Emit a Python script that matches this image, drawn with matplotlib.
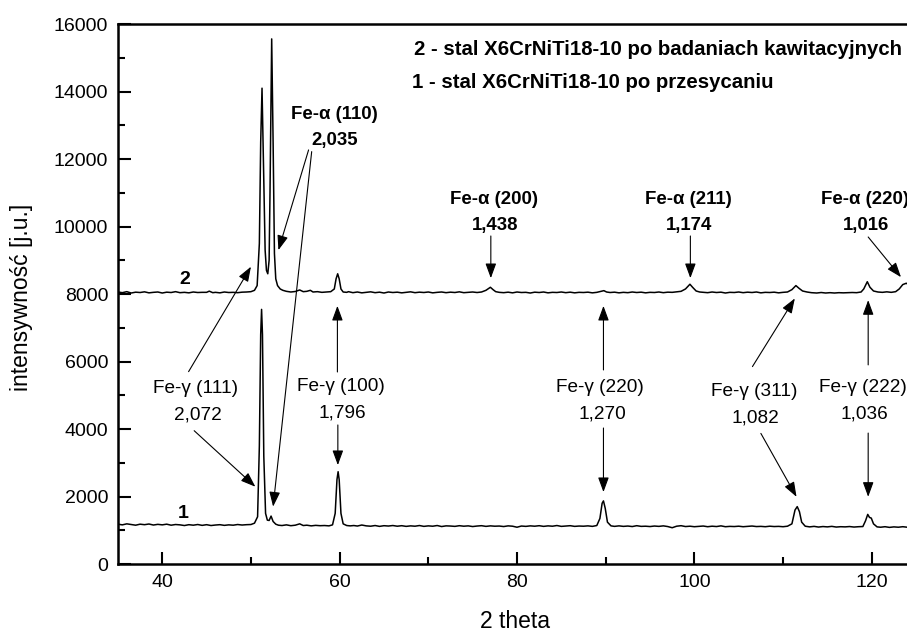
import matplotlib
matplotlib.use("Agg")
import matplotlib.pyplot as plt

plt.rcParams['font.family'] = ['Liberation Sans', 'DejaVu Sans']

# Series 2: steel after cavitation tests (2theta, intensity)
two_theta_2 = [
    35.0, 35.5, 36.0, 36.5, 37.0, 37.5, 38.0, 38.5, 39.0, 39.5,
    40.0, 40.5, 41.0, 41.5, 42.0, 42.5, 43.0, 43.5, 44.0, 44.5,
    45.0, 45.3, 45.7, 46.0, 46.5, 47.0, 47.5, 48.0, 48.5, 49.0,
    49.5, 50.0, 50.4, 50.7, 50.95, 51.1, 51.25, 51.4, 51.6, 51.75,
    51.9, 52.05, 52.15, 52.34, 52.5, 52.65, 52.8, 53.0, 53.3, 53.6,
    54.0, 54.5, 55.0, 55.5, 55.9, 56.3, 56.7, 57.0, 57.5, 58.0,
    58.5, 59.0, 59.4, 59.6, 59.78, 59.95, 60.15, 60.4, 60.8, 61.0,
    61.5, 62.0, 62.5, 63.0, 63.5, 64.0, 64.5, 65.0, 65.5, 66.0,
    66.5, 67.0, 67.5, 68.0, 68.5, 69.0, 69.5, 70.0, 70.5, 71.0,
    71.5, 72.0, 72.5, 73.0, 73.5, 74.0, 74.5, 75.0, 75.5, 76.0,
    76.5, 77.0, 77.3, 77.6, 78.0, 78.5, 79.0, 79.5, 80.0, 80.5,
    81.0, 81.5, 82.0, 82.5, 83.0, 83.5, 84.0, 84.5, 85.0, 85.5,
    86.0, 86.5, 87.0, 87.5, 88.0, 88.5, 89.0, 89.5, 89.8, 90.1,
    90.5, 91.0, 91.5, 92.0, 92.5, 93.0, 93.5, 94.0, 94.5, 95.0,
    95.5, 96.0, 96.5, 97.0, 97.5, 98.0, 98.5, 99.0, 99.5, 99.8,
    100.2, 100.6, 101.0, 101.5, 102.0, 102.5, 103.0, 103.5, 104.0, 104.5,
    105.0, 105.5, 106.0, 106.5, 107.0, 107.5, 108.0, 108.5, 109.0, 109.5,
    110.0, 110.5, 111.0, 111.45, 111.8, 112.2, 112.7, 113.2, 113.8, 114.3,
    114.8, 115.3, 115.8, 116.3, 116.8, 117.3, 117.8, 118.3, 118.8, 119.1,
    119.5, 119.8, 120.2, 120.7, 121.2, 121.7, 122.2, 122.7, 123.1, 123.5,
    123.9, 124.3, 124.8,
]
intensity_2 = [
    8060, 8040, 8070, 8030, 8055, 8045, 8065, 8035, 8050, 8060,
    8030, 8055, 8045, 8070, 8040, 8050, 8035, 8060, 8045, 8050,
    8050, 8085, 8040, 8050, 8035, 8060, 8045, 8050, 8040, 8055,
    8060, 8070, 8110, 8250, 9500, 12500, 14100, 12000, 9300, 8700,
    8600, 9000, 11000, 15560, 12500, 9200, 8450, 8250, 8150, 8110,
    8080, 8060, 8075, 8120, 8070, 8080, 8110, 8060, 8070, 8050,
    8060, 8070, 8150, 8450, 8600, 8450, 8150, 8060, 8050, 8070,
    8040, 8060, 8035, 8050, 8065, 8040, 8055, 8030, 8060, 8045,
    8055, 8035, 8050, 8065, 8040, 8055, 8045, 8060, 8035, 8050,
    8060, 8040, 8055, 8045, 8065, 8040, 8050, 8060, 8045, 8060,
    8110, 8200, 8130, 8070, 8050, 8040, 8055, 8035, 8060, 8045,
    8050, 8030, 8055, 8045, 8060, 8035, 8050, 8045, 8060, 8040,
    8055, 8035, 8050, 8045, 8055, 8035, 8050, 8080, 8100, 8060,
    8045, 8055, 8035, 8050, 8040, 8060, 8045, 8055, 8035, 8050,
    8045, 8060, 8040, 8055, 8050, 8065, 8080, 8150, 8290, 8200,
    8090, 8060, 8050, 8040, 8060, 8045, 8055, 8030, 8050, 8045,
    8060, 8040, 8055, 8045, 8060, 8035, 8050, 8045, 8055, 8035,
    8050, 8060, 8130, 8250, 8170, 8090, 8060, 8040, 8030, 8045,
    8030, 8040, 8030, 8040, 8035, 8040, 8045, 8040, 8060, 8150,
    8365, 8200, 8090, 8060, 8050, 8065, 8050, 8070, 8150, 8280,
    8320, 8250, 8150,
]

# Series 1: steel after solution treatment (2theta, intensity)
two_theta_1 = [
    35.0, 35.5, 36.0, 36.5, 37.0, 37.5, 38.0, 38.5, 39.0, 39.5,
    40.0, 40.5, 41.0, 41.5, 42.0, 42.5, 43.0, 43.5, 44.0, 44.5,
    45.0, 45.5, 46.0, 46.5, 47.0, 47.5, 48.0, 48.5, 49.0, 49.5,
    50.0, 50.4, 50.75, 50.95, 51.1, 51.2, 51.3, 51.45, 51.65, 51.85,
    52.05, 52.27, 52.5, 52.8, 53.1, 53.5, 54.0, 54.5, 55.0, 55.5,
    55.9, 56.3, 56.8, 57.3, 57.8, 58.3, 58.8, 59.2, 59.5, 59.7,
    59.83, 59.95, 60.15, 60.4, 60.8, 61.2, 61.6, 62.0, 62.5, 63.0,
    63.5, 64.0, 64.5, 65.0, 65.5, 66.0, 66.5, 67.0, 67.5, 68.0,
    68.5, 69.0, 69.5, 70.0, 70.5, 71.0, 71.5, 72.0, 72.5, 73.0,
    73.5, 74.0, 74.5, 75.0, 75.5, 76.0, 76.5, 77.0, 77.5, 78.0,
    78.5, 79.0, 79.5, 80.0, 80.5, 81.0, 81.5, 82.0, 82.5, 83.0,
    83.5, 84.0, 84.5, 85.0, 85.5, 86.0, 86.5, 87.0, 87.5, 88.0,
    88.5, 89.0, 89.35, 89.6, 89.75, 89.95, 90.2, 90.6, 91.0, 91.5,
    92.0, 92.5, 93.0, 93.5, 94.0, 94.5, 95.0, 95.5, 96.0, 96.5,
    97.0, 97.5, 98.0, 98.5, 99.0, 99.5, 100.0, 100.5, 101.0, 101.5,
    102.0, 102.5, 103.0, 103.5, 104.0, 104.5, 105.0, 105.5, 106.0, 106.5,
    107.0, 107.5, 108.0, 108.5, 109.0, 109.5, 110.0, 110.5, 111.0, 111.35,
    111.6, 111.85, 112.1, 112.5, 113.0, 113.5, 114.0, 114.5, 115.0, 115.5,
    116.0, 116.5, 117.0, 117.5, 118.0, 118.5, 119.0, 119.3, 119.55, 119.75,
    119.95, 120.2, 120.6, 121.0, 121.5, 122.0, 122.5, 123.0, 123.5, 124.0,
    124.5, 125.0,
]
intensity_1 = [
    1180, 1160, 1190, 1170, 1150, 1180, 1165, 1185, 1155, 1175,
    1160, 1180, 1150, 1170, 1160, 1140, 1165, 1150, 1170, 1145,
    1165, 1140, 1155, 1165, 1145, 1160, 1150, 1170, 1155, 1165,
    1170, 1210, 1400, 3500, 6800, 7545, 6800, 3200, 1500, 1300,
    1290, 1420, 1260, 1180, 1150, 1140, 1160, 1135, 1150, 1190,
    1140, 1150, 1130, 1145, 1135, 1140, 1130, 1160, 1500, 2500,
    2735, 2500, 1500, 1190, 1140, 1130, 1140, 1125, 1155, 1130,
    1120, 1140, 1115, 1135, 1125, 1140, 1120, 1135, 1115, 1130,
    1120, 1140, 1115, 1130, 1120, 1140, 1110, 1130, 1125, 1115,
    1135, 1120, 1130, 1110, 1125, 1135, 1115, 1130, 1120, 1125,
    1110, 1130, 1120, 1090, 1125, 1115, 1130, 1120, 1135, 1115,
    1130, 1120, 1140, 1115, 1125, 1135, 1115, 1125, 1120, 1130,
    1115, 1140, 1350, 1800, 1870, 1650, 1240, 1130, 1115, 1130,
    1115, 1125, 1110, 1135, 1115, 1120, 1110, 1125, 1115, 1130,
    1110, 1075, 1120, 1135, 1110, 1120, 1105, 1115, 1125, 1105,
    1120, 1110, 1130, 1105, 1115, 1110, 1120, 1105, 1115, 1125,
    1110, 1115, 1105, 1120, 1110, 1115, 1105, 1120, 1190, 1600,
    1700, 1550, 1240, 1120, 1100, 1115, 1095, 1110, 1100, 1115,
    1095, 1105, 1100, 1110, 1095, 1105, 1110, 1280, 1470, 1380,
    1360, 1190, 1100, 1090, 1105, 1085, 1100, 1090, 1105, 1090,
    1100, 1090,
]

legend_lines = [
    "2 - stal X6CrNiTi18-10 po badaniach kawitacyjnych",
    "1 - stal X6CrNiTi18-10 po przesycaniu",
]

# Fe-alpha reflections: label, d-spacing, label position, arrows (tail -> head)
alpha_labels = ["Fe-\u03b1 (110)", "Fe-\u03b1 (200)", "Fe-\u03b1 (211)", "Fe-\u03b1 (220)"]
alpha_d = ["2,035", "1,438", "1,174", "1,016"]
alpha_text_xy = [(59.4, 13330), (77.4, 10790), (99.3, 10790), (119.2, 10790)]
alpha_arrows = [
    [((56.5, 12270), (53.1, 9300)), ((56.85, 12220), (52.5, 1700))],
    [((77.05, 9720), (77.05, 8470))],
    [((99.55, 9720), (99.55, 8470))],
    [((119.6, 9690), (123.3, 8500))],
]

# Fe-gamma reflections
gamma_labels = ["Fe-\u03b3 (111)", "Fe-\u03b3 (100)", "Fe-\u03b3 (220)", "Fe-\u03b3 (311)", "Fe-\u03b3 (222)"]
gamma_d = ["2,072", "1,796", "1,270", "1,082", "1,036"]
gamma_text_xy = [(43.8, 5210), (60.1, 5270), (89.4, 5240), (106.7, 5110), (119.0, 5240)]
gamma_arrows = [
    [((42.97, 5700), (50.0, 8810)), ((43.6, 3950), (50.5, 2290))],
    [((59.75, 5690), (59.75, 7650)), ((59.8, 4120), (59.8, 2930))],
    [((89.75, 5750), (89.75, 7650)), ((89.75, 4030), (89.75, 2130))],
    [((106.55, 5850), (111.33, 7870)), ((107.5, 3870), (111.52, 1990))],
    [((119.6, 5900), (119.6, 7820)), ((119.6, 3880), (119.6, 1990))],
]

W, H = 907, 633
fig = plt.figure(figsize=(W / 100, H / 100), dpi=100)
ax = fig.add_axes([0.130, 0.109, 0.880, 0.853])

ax.plot(two_theta_2, intensity_2, color='black', lw=1.1)
ax.plot(two_theta_1, intensity_1, color='black', lw=1.1)

ax.set_xlim(35, 125)
ax.set_ylim(0, 16000)
ax.set_xticks([40, 60, 80, 100, 120])
ax.set_xticks([50, 70, 90, 110], minor=True)
ax.set_yticks(range(0, 16001, 2000))
ax.set_yticks(range(1000, 16000, 2000), minor=True)
ax.tick_params(which='both', direction='in', width=1.5, labelsize=14, pad=7)
ax.tick_params(which='major', length=9)
ax.tick_params(which='minor', length=5)
for s in ax.spines.values():
    s.set_linewidth(1.8)

# axis titles
fig.text(515 / W, 1 - 621 / H, "2 theta", fontsize=16.5, ha='center', va='center')
fig.text(22 / W, 1 - 297 / H, "intensywno\u015b\u0107 [j.u.]", fontsize=16.5,
         rotation=90, ha='center', va='center')

# description of the two curves
ax.text(41.5 + (415 - 163) / 8.86 - 1.5, (564 - 49) * 16000 / 540, legend_lines[0],
        fontsize=14.7, fontweight='bold', ha='left', va='center')
ax.text(41.5 + (413 - 163) / 8.86 - 1.5, (564 - 82) * 16000 / 540, legend_lines[1],
        fontsize=14.7, fontweight='bold', ha='left', va='center')

# curve numbers
ax.text(42.5, 8420, "2", fontsize=14, fontweight='bold', ha='center', va='center')
ax.text(42.4, 1510, "1", fontsize=14, fontweight='bold', ha='center', va='center')

arrow_kw = dict(arrowstyle='-|>,head_length=0.6,head_width=0.22', color='black',
                lw=0.8, mutation_scale=15, shrinkA=0, shrinkB=0)

for lab, d, (tx, ty), arrs in zip(alpha_labels, alpha_d, alpha_text_xy, alpha_arrows):
    ax.text(tx, ty, lab, fontsize=13.4, fontweight='bold', ha='center', va='center', clip_on=False)
    ax.text(tx + 0.1, ty - 770, d, fontsize=13.4, fontweight='bold', ha='center', va='center', clip_on=False)
    for tail, head in arrs:
        ax.annotate('', xy=head, xytext=tail, arrowprops=arrow_kw)

for lab, d, (tx, ty), arrs in zip(gamma_labels, gamma_d, gamma_text_xy, gamma_arrows):
    ax.text(tx, ty, lab, fontsize=13.7, ha='center', va='center', clip_on=False)
    ax.text(tx + 0.2, ty - 790, d, fontsize=13.7, ha='center', va='center', clip_on=False)
    for tail, head in arrs:
        ax.annotate('', xy=head, xytext=tail, arrowprops=arrow_kw)

fig.savefig("out.png", dpi=100)
